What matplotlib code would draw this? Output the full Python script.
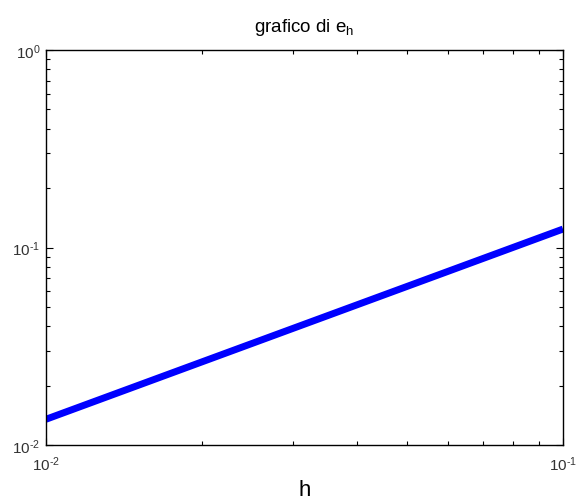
import matplotlib
matplotlib.use("Agg")
import matplotlib.pyplot as plt
import math
from matplotlib.ticker import NullFormatter, LogLocator, FuncFormatter

h = [0.01, 0.1]
e_h = [0.0135, 0.124]

plt.rcParams['font.family'] = ['Liberation Sans', 'DejaVu Sans']
plt.rcParams['mathtext.fontset'] = 'custom'
plt.rcParams['mathtext.rm'] = 'Liberation Sans'
plt.rcParams['mathtext.it'] = 'Liberation Sans'


def fmt(v, pos):
    e = int(round(math.log10(v)))
    s = str(e).replace('-', r'\text{-}')
    return r'$\mathrm{10}^{%s}$' % s


fig = plt.figure(figsize=(5.76, 5.02), dpi=100)
ax = fig.add_axes([46/576, 1-446/502, (563-46)/576, (446-51)/502])
ax.loglog(h, e_h, color='#0000ff', linewidth=5, solid_capstyle='butt')
ax.set_xlim(1e-2, 1e-1)
ax.set_ylim(1e-2, 1e0)
ax.xaxis.set_major_locator(LogLocator(base=10, numticks=10))
ax.xaxis.set_major_formatter(FuncFormatter(fmt))
ax.yaxis.set_major_formatter(FuncFormatter(fmt))
ax.xaxis.set_minor_formatter(NullFormatter())
ax.yaxis.set_minor_formatter(NullFormatter())
ax.tick_params(which='both', direction='in', top=True, right=True, labelsize=11, width=0.8, colors='black')
ax.tick_params(axis='both', which='both', labelcolor='#333333')
ax.tick_params(which='major', length=5)
ax.tick_params(which='minor', length=3)
ax.tick_params(axis='x', pad=7)
ax.tick_params(axis='y', pad=4)
for s in ax.spines.values():
    s.set_linewidth(1.0)
ax.set_title(r'grafico di e$_\mathrm{h}$', fontsize=13.5, pad=14)
ax.set_xlabel('h', fontsize=16, labelpad=4)
fig.savefig('out.png', dpi=100)
